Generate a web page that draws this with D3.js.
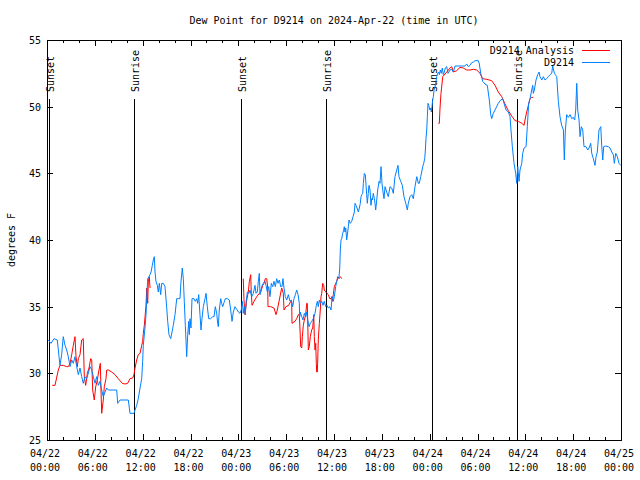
<!DOCTYPE html>
<html><head><meta charset="utf-8">
<script src="https://cdn.jsdelivr.net/npm/d3@7"></script>
<style>
body{margin:0;background:#fff}
svg text{font-family:"DejaVu Sans Mono","Liberation Mono",monospace;font-size:10px;fill:#000}
</style>
</head><body>
<svg id="chart" width="640" height="480"></svg>
<script>
// ---------- data ----------
const chartTitle = "Dew Point for D9214 on 2024-Apr-22 (time in UTC)";
const yAxisLabel = "degrees F";
const seriesNames = ["D9214 Analysis", "D9214"];
const seriesColors = ["#ff0000", "#0080ff"];
const startTimeUTC = Date.UTC(2024, 3, 22, 0, 0);
const spanHours = 72;
const yDomain = [25, 55];
const yTickValues = [25, 30, 35, 40, 45, 50, 55];
const majorTickHours = 6;
const minorTickHours = 2;
const sunsetHours = [0.29, 24.37, 48.33];
const sunriseHours = [10.93, 35.05, 59.0];

// [hours since 04/22 00:00 UTC, dew point F]; null = gap
const analysisReadings = [
[0.66,29.1],[1.00,29.1],[1.42,30.25],[1.63,30.6],[2.04,30.6],[2.47,30.5],[2.67,30.5],[2.89,30.75],[3.10,31.4],[3.30,32.1],[3.51,32.75],[3.64,31.25],[3.80,30.5],[3.93,31.1],[4.14,31.4],[4.35,32.5],[4.55,32.6],[4.68,29.75],[4.85,29.1],[5.06,30],[5.27,30.4],[5.48,31.1],[5.61,31],[5.73,28.75],[5.93,28],[6.11,29],[6.31,29.5],[6.52,30.25],[6.69,30.75],[6.77,28.75],[6.86,27],[7.06,28],[7.19,29],[7.40,29.6],[7.49,30.25],[7.69,30.25],[8.12,30.1],[8.53,29.9],[8.94,29.6],[9.45,29.25],[9.78,29.2],[10.12,29.25],[10.41,29.6],[10.75,29.65],[10.91,29.9],[11.04,30.4],[11.25,31],[11.45,31.4],[11.67,31.5],[11.88,32.1],[12.00,32.4],[12.08,33],[12.21,33.6],[12.42,35.1],[12.51,36.4],[12.63,35.25],[12.71,36.9],[12.83,37.25],[12.92,36.4],
[18,null],
[24.62,37.1],[24.71,35.5],[24.84,34.4],[25.05,35.5],[25.25,36.1],[25.38,36.9],[25.55,37.4],[25.63,36],[25.72,35.1],[25.97,35.4],[26.31,35.75],[26.63,36],[26.81,36.1],[27.06,36.6],[27.22,36.75],[27.38,37.1],[27.56,37.1],[27.69,36.4],[27.72,35],[28.06,35],[28.47,34.9],[28.73,34.4],[28.89,34.75],[29.14,35.5],[29.44,36.4],[29.64,36],[29.73,34.75],[29.98,35],[30.32,35.1],[30.57,35.4],[30.70,35.25],[30.73,33.75],[31.11,33.9],[31.32,34.1],[31.52,34.4],[31.65,34.4],[31.74,33.25],[31.82,32],[31.95,31.9],[32.03,32.75],[32.15,33.6],[32.28,34],[32.45,34.4],[32.58,35.25],[32.65,35.25],[32.70,34],[32.78,31.75],[32.90,32],[33.03,32.75],[33.20,33.25],[33.33,33.4],[33.46,34.4],[33.53,32.75],[33.62,31.75],[33.71,32.25],[33.78,30.75],[33.83,30.1],[33.91,30.1],[33.96,31],[34.03,32.5],[34.16,33.75],[34.28,34.75],[34.37,35.75],[34.46,36],[34.58,36.75],[34.71,36.6],[34.78,36.25],[34.96,36.1],[35.12,36],[35.29,35.9],[35.46,35.6],[35.63,35.6],[35.71,35.75],[35.79,35.4],[35.91,35.9],[36.04,36.5],[36.21,36.75],[36.34,36.9],[36.47,37.25],[36.63,37.1],[36.79,37.25],[36.97,37.1],
[42,null],
[49.09,48.75],[49.21,48.75],[49.30,49.9],[49.42,51],[49.64,52.25],[49.71,52.3],[50.14,52.6],[50.55,52.9],[50.77,53],[50.97,52.6],[51.39,52.7],[51.81,52.95],[52.22,52.9],[52.65,52.75],[53.06,52.75],[53.48,52.8],[53.90,52.75],[54.32,52.5],[54.65,52.1],[55.16,52.05],[55.78,51.95],[56.20,51.6],[56.61,51.1],[57.04,50.75],[57.45,50.2],[57.87,49.7],[58.29,49.3],[58.71,48.95],[59.12,48.9],[59.55,48.75],[59.84,48.6],[59.96,49],[60.17,49.6],[60.38,50.1],[60.59,50.6],[60.80,50.7],[61.00,50.7]
];

const observedReadings = [
[0.16,32.5],[0.50,32.25],[0.88,32.6],[1.29,32.5],[1.51,31.25],[1.63,30.6],[1.84,31.4],[2.04,32.75],[2.26,32.1],[2.47,31.75],[2.67,31.25],[2.89,30.5],[3.10,31],[3.30,30.75],[3.51,31.25],[3.73,30.5],[3.93,29.9],[4.14,30.4],[4.35,29.75],[4.55,29.25],[4.77,29.75],[4.98,29.6],[5.18,30],[5.39,30.5],[5.61,30.25],[5.81,29.75],[6.02,29.25],[6.23,29.75],[6.44,29.1],[6.65,29.4],[6.86,28.75],[7.06,28.25],[7.28,28.6],[7.49,28.9],[7.69,28.75],[8.74,28.75],[8.87,27.75],[9.16,28],[10.20,28],[10.41,27],[10.91,27],[11.04,27.25],[11.25,27.6],[11.45,28.1],[11.67,28.9],[11.88,29.6],[12.00,30.9],[12.08,32.1],[12.29,33.4],[12.42,34.4],[12.51,35.6],[12.63,37.1],[12.79,37.25],[12.92,37.4],[13.05,37.6],[13.21,38.1],[13.33,38.5],[13.46,38.75],[13.55,37.6],[13.67,36.9],[13.84,36.6],[13.96,36.1],[14.09,36.75],[14.26,35.9],[14.39,36.75],[14.59,36.75],[14.80,36.5],[15.02,34.9],[15.14,33.9],[15.30,32.9],[15.52,32.6],[15.68,33.1],[15.84,33.6],[16.06,34.4],[16.27,35.6],[16.47,35.6],[16.68,35.6],[16.81,36.9],[16.97,37.9],[17.10,37.1],[17.22,35.4],[17.35,33.6],[17.44,32.4],[17.52,31.25],[17.65,32.9],[17.78,33.9],[17.85,32.9],[17.94,34.1],[18.06,33.4],[18.19,35.6],[18.44,35.6],[18.60,35.4],[18.78,35.6],[18.90,35.25],[19.03,35.9],[19.19,34.4],[19.32,33.25],[19.44,34.1],[19.61,35],[19.82,35.6],[19.95,36],[20.11,35],[20.28,34.1],[20.53,34.1],[20.79,34.25],[20.95,34.25],[21.11,35],[21.29,34.5],[21.41,33.75],[21.49,33.5],[21.61,34.75],[21.79,35.6],[21.91,35.25],[22.04,35],[22.20,35.3],[22.37,35.6],[22.62,35.6],[22.87,35.5],[23.04,34.75],[23.21,33.9],[23.37,34.6],[23.58,35],[23.80,34.8],[24.00,34.6],[24.21,34.5],[24.37,34.75],[24.50,35.4],[24.62,34.5],[24.75,35],[24.87,34.4],[24.96,35.25],[25.13,36.1],[25.34,36],[25.46,36.25],[25.68,35.75],[25.88,36],[26.09,36.6],[26.22,36],[26.38,36.1],[26.51,36.9],[26.63,37.5],[26.72,35.9],[26.93,36.5],[27.13,36.75],[27.35,36.9],[27.47,36.6],[27.64,36.1],[27.81,36.5],[27.97,35.75],[28.14,36.75],[28.31,36.5],[28.47,36.9],[28.64,36.5],[28.81,37.1],[28.98,36.75],[29.14,37],[29.32,36.5],[29.48,36.5],[29.60,37.1],[29.73,36.4],[29.89,35.75],[30.07,35.5],[30.27,35.9],[30.48,35.4],[30.65,35.5],[30.82,35],[30.98,35.6],[31.15,35.9],[31.32,36.25],[31.49,35.9],[31.65,35.25],[31.70,34.25],[31.77,34.6],[31.95,34.25],[32.11,34],[32.28,34.5],[32.45,34.25],[32.58,34.6],[32.70,34],[32.87,33.5],[33.03,33.75],[33.20,33.9],[33.41,34.1],[33.62,34.5],[33.78,35.1],[33.91,35.4],[34.03,35],[34.16,35.5],[34.28,35.25],[34.46,35.4],[34.62,35.1],[34.78,35.4],[34.96,35],[35.12,35.1],[35.29,34.9],[35.46,35],[35.63,34.75],[35.71,35.4],[35.79,35.75],[35.91,35.4],[36.04,35.75],[36.21,36.5],[36.34,36.9],[36.47,37.1],[36.63,37.25],[36.72,37.9],[36.79,39.25],[36.88,40],[36.97,40.1],[37.09,40.5],[37.22,40.75],[37.29,41],[37.38,40.6],[37.47,40.9],[37.59,40],[37.72,40.6],[37.80,41],[37.88,41.5],[38.05,41.25],[38.22,41.4],[38.39,41.75],[38.55,42.1],[38.64,42.75],[38.76,42.6],[38.89,42.4],[39.05,42.1],[39.18,42.4],[39.30,42.75],[39.39,43.25],[39.48,43.4],[39.60,43.5],[39.68,44.25],[39.80,45],[39.93,44.9],[40.02,44.1],[40.10,43.4],[40.18,42.75],[40.30,43.5],[40.39,44.1],[40.52,43.75],[40.64,42.6],[40.73,43.1],[40.81,43],[40.93,43.5],[41.06,43.1],[41.14,42.75],[41.23,42.25],[41.36,43],[41.48,43.75],[41.65,44.4],[41.77,44.25],[41.90,45.5],[42.02,44.25],[42.15,43.6],[42.27,43.1],[42.40,44],[42.61,43.6],[42.81,43.25],[43.03,44],[43.24,43.9],[43.44,43.5],[43.65,44.75],[43.87,45.25],[44.03,45.6],[44.15,44.75],[44.37,44.4],[44.57,44.1],[44.78,43.25],[45.00,42.75],[45.20,42.25],[45.32,42.75],[45.53,43.25],[45.75,43.4],[45.95,43.1],[46.16,44],[46.38,44.75],[46.58,44.25],[46.70,44.25],[46.88,44.75],[47.00,45.1],[47.13,45.5],[47.25,45.75],[47.38,46.1],[47.46,46.75],[47.54,47.6],[47.63,48.25],[47.71,49.25],[47.79,50.25],[47.88,50.1],[47.96,49.9],[48.04,49.75],[48.13,49.9],[48.21,49.6],[48.29,50],[48.38,50.5],[48.46,50.75],[48.55,51.25],[48.67,51.5],[48.80,51.9],[48.88,52.25],[49.01,52.5],[49.13,52.6],[49.21,52.4],[49.34,52.75],[49.46,52.5],[49.59,52.9],[49.71,52.4],[49.84,52.6],[49.96,52.9],[50.14,53],[50.30,52.5],[50.55,52.75],[50.77,52.8],[50.97,52.6],[51.18,53.05],[51.59,53.05],[52.02,53.05],[52.43,53.05],[52.65,53.2],[52.85,53.0],[53.06,53.1],[53.27,53.3],[53.48,53.35],[53.69,53.45],[54.10,53.45],[54.23,53.2],[54.40,52.5],[54.65,51.9],[54.94,51.7],[55.23,51.6],[55.48,50.5],[55.66,49.4],[55.78,49.1],[55.98,49.5],[56.32,49.9],[56.61,50.25],[56.91,50.5],[57.16,50.6],[57.33,50.25],[57.58,49.75],[57.87,49.6],[58.08,49.25],[58.20,48.25],[58.37,47],[58.58,45.75],[58.79,45],[58.92,44.25],[59.05,45.5],[59.21,44.4],[59.33,45.25],[59.55,45.75],[59.67,46.5],[59.84,46.9],[60.09,47],[60.25,48.5],[60.42,50.25],[60.59,50.6],[60.80,51.25],[60.93,51.6],[61.00,51],[61.13,51.25],[61.34,52],[61.55,52.4],[61.72,52.6],[61.84,52.25],[62.06,52],[62.26,52.25],[62.47,52],[62.68,52.1],[62.88,52.25],[63.10,52.4],[63.31,52.5],[63.43,53.05],[63.60,52.6],[63.76,52.4],[63.94,52.25],[64.14,50.4],[64.35,49.25],[64.56,48.6],[64.77,48.25],[64.89,46],[65.02,48.25],[65.19,49.4],[65.39,49.2],[65.61,49.4],[65.82,49.1],[66.02,49.2],[66.19,49],[66.32,49.75],[66.45,51.75],[66.57,49.75],[66.74,49],[66.86,47.75],[67.02,48.5],[67.20,48.25],[67.36,47],[67.61,47],[67.83,46.75],[67.99,46.9],[68.20,47.25],[68.33,46.5],[68.53,46.1],[68.74,45.6],[68.87,46.25],[69.03,46.6],[69.24,48.25],[69.46,48.5],[69.58,47.1],[69.71,46],[69.83,47],[70.04,47.05],[70.41,47],[70.62,46.9],[70.84,46.6],[71.04,46.4],[71.16,45.75],[71.34,46.5],[71.54,46.25],[71.75,45.75],[71.97,45.6]
];

// ---------- layout ----------
const W = 640, H = 480;
const plot = {left: 47, right: 621, top: 40, bottom: 440};
const hourMs = 3600e3;
const toDate = h => new Date(startTimeUTC + h * hourMs);

const svg = d3.select("#chart");
svg.append("rect").attr("width", W).attr("height", H).attr("fill", "#fff");

const x = d3.scaleUtc()
  .domain([toDate(0), toDate(spanHours)])
  .range([plot.left, plot.right]);
const y = d3.scaleLinear().domain(yDomain).range([plot.bottom, plot.top]);

const majorTicks = d3.range(0, spanHours + 0.001, majorTickHours).map(toDate);
const minorTicks = d3.range(0, spanHours + 0.001, minorTickHours).map(toDate);

function styleAxis(g){
  g.select(".domain").remove();
  g.selectAll(".tick line").attr("stroke", "#000").attr("shape-rendering", "crispEdges");
  g.selectAll(".tick text").remove();
}

// minor + major ticks, bottom and top (inward)
svg.append("g").attr("transform", `translate(0,${plot.bottom})`)
  .call(d3.axisBottom(x).tickValues(minorTicks).tickSize(-3)).call(styleAxis);
svg.append("g").attr("transform", `translate(0,${plot.bottom})`)
  .call(d3.axisBottom(x).tickValues(majorTicks).tickSize(-6)).call(styleAxis);
svg.append("g").attr("transform", `translate(0,${plot.top})`)
  .call(d3.axisTop(x).tickValues(minorTicks).tickSize(-3)).call(styleAxis);
svg.append("g").attr("transform", `translate(0,${plot.top})`)
  .call(d3.axisTop(x).tickValues(majorTicks).tickSize(-6)).call(styleAxis);
// y ticks left and right (inward)
svg.append("g").attr("transform", `translate(${plot.left},0)`)
  .call(d3.axisLeft(y).tickValues(yTickValues).tickSize(-6)).call(styleAxis);
svg.append("g").attr("transform", `translate(${plot.right},0)`)
  .call(d3.axisRight(y).tickValues(yTickValues).tickSize(-6)).call(styleAxis);

// y tick labels
svg.append("g").selectAll("text").data(yTickValues).join("text")
  .attr("x", plot.left - 6).attr("y", d => y(d) + 4)
  .attr("text-anchor", "end").text(d => d);

// x tick labels (two lines)
const fmtDate = d3.utcFormat("%m/%d"), fmtTime = d3.utcFormat("%H:%M");
const xl = svg.append("g").selectAll("g").data(majorTicks).join("g")
  .attr("transform", d => `translate(${x(d) - 2},0)`);
xl.append("text").attr("y", 457).attr("text-anchor", "middle").text(d => fmtDate(d));
xl.append("text").attr("y", 471).attr("text-anchor", "middle").text(d => fmtTime(d));

// title and axis label
svg.append("text").attr("x", (plot.left + plot.right) / 2).attr("y", 24)
  .attr("text-anchor", "middle").text(chartTitle);
svg.append("text").attr("transform", `translate(15,${(plot.top + plot.bottom) / 2}) rotate(-90)`)
  .attr("text-anchor", "middle").text(yAxisLabel);

// sunrise / sunset markers
const sunEvents = sunsetHours.map(h => ({h, label: "Sunset"}))
  .concat(sunriseHours.map(h => ({h, label: "Sunrise"})));
const se = svg.append("g").selectAll("g").data(sunEvents).join("g");
se.append("line")
  .attr("x1", d => Math.round(x(toDate(d.h))) + 0.5).attr("x2", d => Math.round(x(toDate(d.h))) + 0.5)
  .attr("y1", 99).attr("y2", plot.bottom)
  .attr("stroke", "#000").attr("stroke-width", 1);
se.append("text")
  .attr("transform", d => `translate(${Math.round(x(toDate(d.h))) + 5},92) rotate(-90)`)
  .attr("text-anchor", "start").text(d => d.label);

// data lines
const line = d3.line()
  .defined(d => d[1] != null)
  .x(d => x(toDate(d[0])))
  .y(d => y(d[1]));

const clip = svg.append("clipPath").attr("id", "clip").append("rect")
  .attr("x", plot.left).attr("y", plot.top)
  .attr("width", plot.right - plot.left).attr("height", plot.bottom - plot.top);

svg.append("path").datum(analysisReadings)
  .attr("d", line).attr("fill", "none").attr("stroke", seriesColors[0])
  .attr("stroke-width", 1).attr("clip-path", "url(#clip)");
svg.append("path").datum(observedReadings)
  .attr("d", line).attr("fill", "none").attr("stroke", seriesColors[1])
  .attr("stroke-width", 1).attr("clip-path", "url(#clip)");

// frame
svg.append("rect").attr("x", plot.left + 0.5).attr("y", plot.top + 0.5)
  .attr("width", plot.right - plot.left).attr("height", plot.bottom - plot.top)
  .attr("fill", "none").attr("stroke", "#000").attr("stroke-width", 1);

// legend
const legend = svg.append("g").selectAll("g").data(seriesNames).join("g")
  .attr("transform", (d, i) => `translate(0,${50 + i * 12})`);
legend.append("text").attr("x", 574).attr("y", 4).attr("text-anchor", "end").text(d => d);
legend.append("line").attr("x1", 582).attr("x2", 610).attr("y1", 0.5).attr("y2", 0.5)
  .attr("stroke", (d, i) => seriesColors[i]).attr("stroke-width", 1);
</script>
</body></html>
